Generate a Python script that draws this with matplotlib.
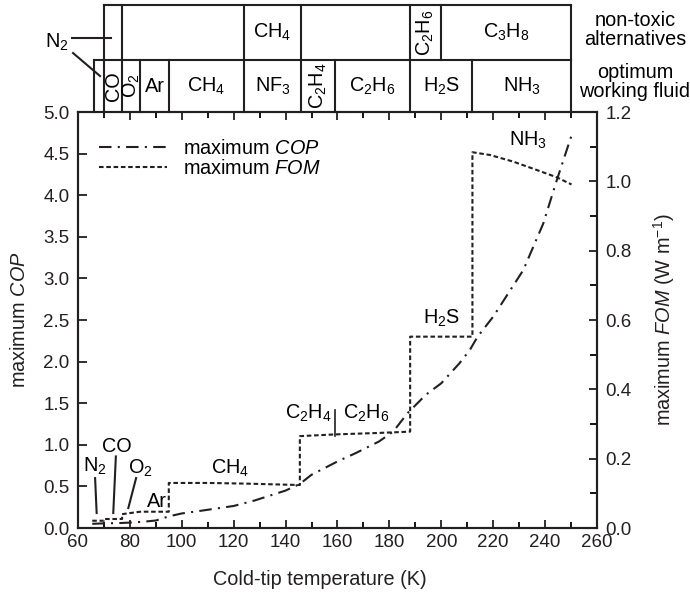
import matplotlib
matplotlib.use('Agg')
import matplotlib.pyplot as plt
from matplotlib.ticker import MultipleLocator

plt.rcParams['font.family'] = 'Liberation Sans'
plt.rcParams['font.size'] = 14.3
plt.rcParams['xtick.labelsize'] = 13.5
plt.rcParams['ytick.labelsize'] = 13.5
plt.rcParams['mathtext.fontset'] = 'custom'
plt.rcParams['mathtext.rm'] = 'Liberation Sans'
plt.rcParams['mathtext.it'] = 'Liberation Sans:italic'
plt.rcParams['axes.linewidth'] = 1.5

ink = '#231f20'

# maximum COP vs cold-tip temperature (left axis)
cop_T = [65.5, 70, 75, 80, 85, 90, 95, 100, 108, 120, 128, 135, 140, 145.5, 150,
         160, 167, 176, 181.5, 187, 194, 200, 207, 211, 214, 220, 231.6, 239.3, 244.4, 250.2]
cop = [0.05, 0.056, 0.058, 0.065, 0.075, 0.09, 0.14, 0.175, 0.21, 0.265, 0.33, 0.40, 0.45, 0.53, 0.64,
       0.80, 0.90, 1.04, 1.16, 1.38, 1.60, 1.74, 1.98, 2.14, 2.30, 2.54, 3.10, 3.66, 4.17, 4.72]

# maximum FOM (W/m), step-wise per optimum fluid (right axis)
fom_T = [65.5, 70, 70, 77, 77, 84, 95, 95, 110, 125, 145.5, 145.5, 159, 175, 188, 188,
         212, 212, 218.8, 227.7, 236.7, 244.4, 250.2]
fom = [0.021, 0.021, 0.026, 0.026, 0.040, 0.047, 0.047, 0.130, 0.130, 0.128, 0.124, 0.265, 0.270,
       0.274, 0.278, 0.552, 0.552, 1.084, 1.076, 1.057, 1.033, 1.012, 0.991]

# fluid table above the plot
top_edges = [70, 77, 124, 146, 188, 200, 250]
top_labels = ['', '', 'CH$_4$', '', 'C$_2$H$_6$', 'C$_3$H$_8$']
top_rot = [0, 0, 0, 0, 90, 0]
bot_edges = [66, 70, 77, 84, 95, 124, 146, 159, 188, 212, 250]
bot_labels = ['', 'CO', 'O$_2$', 'Ar', 'CH$_4$', 'NF$_3$', 'C$_2$H$_4$', 'C$_2$H$_6$', 'H$_2$S', 'NH$_3$']
bot_rot = [0, 90, 90, 0, 0, 0, 90, 0, 0, 0]

fig = plt.figure(figsize=(6.9, 5.94), dpi=100)
ax = fig.add_axes([0.113, 0.1111, 0.7522, 0.7003])
ax2 = ax.twinx()

l1, = ax.plot(cop_T, cop, color=ink, lw=1.5, dashes=(6, 3, 1, 3))
l2, = ax2.plot(fom_T, fom, color=ink, lw=1.5, dashes=(2.2, 1.3))

ax.set_xlim(60, 260)
ax.set_ylim(0, 5)
ax2.set_ylim(0, 1.2)
ax.xaxis.set_major_locator(MultipleLocator(20))
ax.xaxis.set_minor_locator(MultipleLocator(10))
ax.yaxis.set_major_locator(MultipleLocator(0.5))
ax2.yaxis.set_major_locator(MultipleLocator(0.2))
ax2.yaxis.set_minor_locator(MultipleLocator(0.1))
ax.yaxis.set_major_formatter(lambda v, p: f'{v:.1f}')
ax2.yaxis.set_major_formatter(lambda v, p: f'{v:.1f}')

ax.tick_params(axis='x', which='major', direction='in', top=True, length=6, width=1.3, pad=4, colors=ink)
ax.tick_params(axis='x', which='minor', direction='in', top=True, length=4, width=1.3)
ax.tick_params(axis='y', direction='in', right=False, length=6.5, width=1.3, pad=6, colors=ink)
ax2.tick_params(axis='y', which='major', direction='in', length=6, width=1.3, pad=6, colors=ink)
ax2.tick_params(axis='y', which='minor', direction='in', length=5, width=1.3)
for a in (ax, ax2):
    for s in a.spines.values():
        s.set_color(ink)

ax.set_xlabel('Cold-tip temperature (K)', color=ink)
ax.xaxis.set_label_coords(0.466, -0.1)
ax.set_ylabel('maximum $\\mathit{COP}$', color=ink, labelpad=10)
ax2.set_ylabel('maximum $\\mathit{FOM}$ (W m$^{-1}$)', color=ink, labelpad=14)

ax2.legend([l1, l2], ['maximum $\\mathit{COP}$', 'maximum $\\mathit{FOM}$'], loc='upper left',
           bbox_to_anchor=(0.026, 0.955), frameon=False, handlelength=3.4, handletextpad=0.8,
           labelspacing=0.05, borderaxespad=0)

# in-plot labels
ax.text(66.6, 0.74, 'N$_2$', ha='center', va='center')
ax.plot([66.6, 67.2], [0.60, 0.18], color=ink, lw=1.5)
ax.text(75.0, 0.98, 'CO', ha='center', va='center')
ax.plot([74.6, 73.6], [0.86, 0.18], color=ink, lw=1.5)
ax.text(84.0, 0.72, 'O$_2$', ha='center', va='center')
ax.plot([82.4, 79.4], [0.60, 0.24], color=ink, lw=1.5)
ax.text(90.4, 0.32, 'Ar', ha='center', va='center')
ax.text(118.6, 0.72, 'CH$_4$', ha='center', va='center')
ax.text(148.7, 1.38, 'C$_2$H$_4$', ha='center', va='center')
ax.plot([159, 159], [1.10, 1.42], color=ink, lw=1.2)
ax.text(171.2, 1.38, 'C$_2$H$_6$', ha='center', va='center')
ax.text(200.1, 2.52, 'H$_2$S', ha='center', va='center')
ax.text(233.5, 4.66, 'NH$_3$', ha='center', va='center')

# table
ax_t = fig.add_axes([0.113, 0.8114, 0.7522, 0.1801])
ax_t.set_xlim(60, 260)
ax_t.set_ylim(0, 2.06)
ax_t.axis('off')
kw = dict(color=ink, lw=1.5, clip_on=False, solid_capstyle='projecting')
ax_t.plot([top_edges[0], top_edges[-1]], [2.06, 2.06], **kw)
ax_t.plot([bot_edges[0], bot_edges[-1]], [1, 1], **kw)
for e in top_edges:
    ax_t.plot([e, e], [1, 2.06], **kw)
for e in bot_edges:
    ax_t.plot([e, e], [0, 1], **kw)
for i, lab in enumerate(top_labels):
    if lab:
        ax_t.text((top_edges[i] + top_edges[i + 1]) / 2, 1.53, lab, ha='center', va='center',
                  rotation=top_rot[i], rotation_mode='anchor')
for i, lab in enumerate(bot_labels):
    if lab:
        ax_t.text((bot_edges[i] + bot_edges[i + 1]) / 2, 0.5, lab, ha='center', va='center',
                  rotation=bot_rot[i], rotation_mode='anchor')

ax_t.text(51.7, 1.35, 'N$_2$', ha='center', va='center')
ax_t.plot([57.7, 72.7], [1.425, 1.425], color=ink, lw=1.5, clip_on=False)
ax_t.plot([58.1, 68.5], [1.136, 0.693], color=ink, lw=1.5, clip_on=False)
ax_t.text(274.6, 1.58, 'non-toxic\nalternatives', ha='center', va='center', linespacing=1.0)
ax_t.text(274.6, 0.58, 'optimum\nworking fluid', ha='center', va='center', linespacing=1.0)

fig.savefig('out.png', dpi=100)
